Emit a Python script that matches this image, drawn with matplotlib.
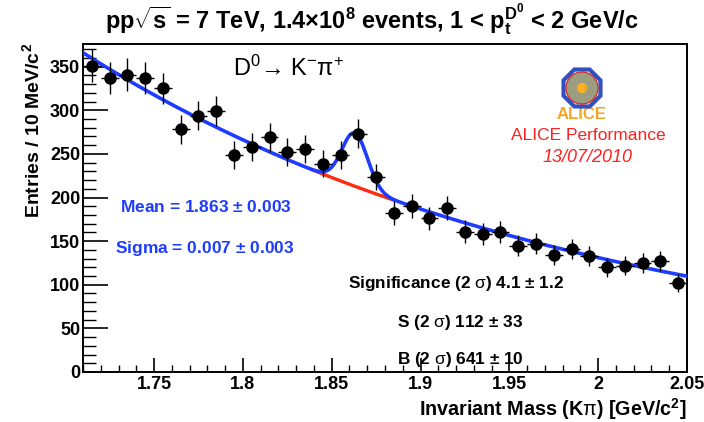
import numpy as np
import matplotlib
matplotlib.use("Agg")
import matplotlib.pyplot as plt
from matplotlib.patches import RegularPolygon, Circle
from matplotlib.ticker import MultipleLocator

plt.rcParams['font.family'] = ['Liberation Sans', 'DejaVu Sans']
plt.rcParams['mathtext.fontset'] = 'custom'
plt.rcParams['mathtext.rm'] = 'Liberation Sans:bold'
plt.rcParams['mathtext.bf'] = 'Liberation Sans:bold'
plt.rcParams['mathtext.it'] = 'Liberation Sans:italic:bold'
plt.rcParams['mathtext.sf'] = 'Liberation Sans'

# histogram: invariant mass bins (10 MeV) and counts
mass = [1.715, 1.725, 1.735, 1.745, 1.755, 1.765, 1.775, 1.785, 1.795, 1.805,
        1.815, 1.825, 1.835, 1.845, 1.855, 1.865, 1.875, 1.885, 1.895, 1.905,
        1.915, 1.925, 1.935, 1.945, 1.955, 1.965, 1.975, 1.985, 1.995, 2.005,
        2.015, 2.025, 2.035, 2.045]
counts = [351, 337, 341, 337, 325, 278, 294, 299, 249, 258,
          269, 252, 256, 239, 249, 273, 223, 182, 190, 176,
          188, 161, 158, 160, 145, 147, 134, 141, 133, 120,
          122, 125, 127, 102]
errors = [18.7, 18.4, 18.5, 18.4, 18.0, 16.7, 17.1, 17.3, 15.8, 16.1,
          16.4, 15.9, 16.0, 15.5, 15.8, 16.5, 14.9, 13.5, 13.8, 13.3,
          13.7, 12.7, 12.6, 12.6, 12.0, 12.1, 11.6, 11.9, 11.5, 11.0,
          11.0, 11.2, 11.3, 10.1]
binhalf = 0.005

# fit: exponential background + gaussian
bkg_norm, bkg_slope, x0 = 366.0, 3.54, 1.71
g_amp, g_mean, g_sigma = 61.0, 1.863, 0.0072
sig_lo, sig_hi = 1.839, 1.885

def bkg(x):
    return bkg_norm * np.exp(-bkg_slope * (x - x0))

def total(x):
    return bkg(x) + g_amp * np.exp(-0.5 * ((x - g_mean) / g_sigma) ** 2)

fig = plt.figure(figsize=(7.04, 4.22), dpi=100)
ax = fig.add_axes([83/704, 50/422, 604/704, 328/422])

xf = np.linspace(1.71, 2.05, 400)
xr = np.linspace(sig_lo, sig_hi, 100)
ax.plot(xr, bkg(xr), color='#ff2a10', lw=2.4, zorder=2)
ax.plot(xf, total(xf), color='#1e3cff', lw=2.6, zorder=3)
ax.errorbar(mass, counts, yerr=errors, xerr=binhalf, fmt='o', color='black',
            ms=8, elinewidth=1.0, capsize=0, zorder=4)

ax.set_xlim(1.71, 2.05)
ax.set_ylim(0, 376)
ax.xaxis.set_major_locator(MultipleLocator(0.05))
ax.xaxis.set_minor_locator(MultipleLocator(0.01))
ax.yaxis.set_major_locator(MultipleLocator(50))
ax.yaxis.set_minor_locator(MultipleLocator(10))
ax.set_xticks([1.75, 1.8, 1.85, 1.9, 1.95, 2.0, 2.05])
ax.set_xticklabels(['1.75', '1.8', '1.85', '1.9', '1.95', '2', '2.05'])
ax.tick_params(axis='x', which='major', direction='in', length=10, width=1.2,
               labelsize=13, pad=3)
ax.tick_params(axis='x', which='minor', direction='in', length=5, width=1.0)
ax.tick_params(axis='y', which='major', direction='in', length=18, width=1.2,
               labelsize=13, pad=2)
ax.tick_params(axis='y', which='minor', direction='in', length=9, width=1.0)
for lab in ax.get_xticklabels() + ax.get_yticklabels():
    lab.set_fontweight('bold')
for s in ax.spines.values():
    s.set_linewidth(1.4)

fig.text(372/704, 1 - 20/422,
         r'pp$\sqrt{\mathrm{s}}$ = 7 TeV, 1.4$\times$10$^{\mathrm{8}}$ events, 1 < p$_{\mathrm{t}}^{\mathrm{D^0}}$ < 2 GeV/c',
         ha='center', va='center', fontsize=17, fontweight='bold')
fig.text(687/704, 1 - 409/422, r'Invariant Mass (K$\mathsf{\pi}$) [GeV/c$^{\mathrm{2}}$]',
         ha='right', va='center', fontsize=14.2, fontweight='bold')
fig.text(32/704, 1 - 43/422, r'Entries / 10 MeV/c$^{\mathrm{2}}$',
         ha='center', va='top', rotation=90, fontsize=14, fontweight='bold')

tr = ax.transAxes
ax.text(0.248, 0.925, r'D$^{\mathsf{0}}$→ K$^{\mathsf{-}}$π$^{\mathsf{+}}$',
        transform=tr, fontsize=17, va='center', ha='left')
ax.text(0.061, 0.503, r'Mean = 1.863 $\pm$ 0.003', transform=tr, color='#1e3cff',
        fontsize=12.5, fontweight='bold', va='center')
ax.text(0.053, 0.378, r'Sigma = 0.007 $\pm$ 0.003', transform=tr, color='#1e3cff',
        fontsize=12.5, fontweight='bold', va='center')
ax.text(0.439, 0.271, r'Significance (2 $\mathsf{\sigma}$) 4.1 $\pm$ 1.2', transform=tr,
        fontsize=12.4, fontweight='bold', va='center')
ax.text(0.52, 0.152, r'S (2 $\mathsf{\sigma}$) 112 $\pm$ 33', transform=tr,
        fontsize=12.4, fontweight='bold', va='center')
ax.text(0.52, 0.037, r'B (2 $\mathsf{\sigma}$) 641 $\pm$ 10', transform=tr,
        fontsize=12.4, fontweight='bold', va='center')

ax.text(0.836, 0.72, 'ALICE Performance', transform=tr, color='#ff2020',
        fontsize=12.5, ha='center', va='center')
ax.text(0.836, 0.655, '13/07/2010', transform=tr, color='#ff2020',
        fontsize=13, style='italic', ha='center', va='center')

# simple ALICE logo, drawn in inches so it stays round
it = fig.dpi_scale_trans
lx, ly = 5.82, (422 - 88) / 100
ax.add_patch(RegularPolygon((lx, ly), 8, radius=0.2, orientation=np.pi/8,
                            transform=it, facecolor='none', edgecolor='#3050c0',
                            lw=3, zorder=5))
ax.add_patch(Circle((lx, ly), 0.16, transform=it, facecolor='#9c9c80',
                    edgecolor='#d03030', lw=1, zorder=5))
ax.add_patch(Circle((lx, ly), 0.05, transform=it, facecolor='#ffb020',
                    edgecolor='none', zorder=6))
ax.text(0.826, 0.785, 'ALICE', transform=tr, color='#f5a623', fontsize=12,
        fontweight='bold', ha='center', va='center')

fig.savefig('out.png', dpi=100)
